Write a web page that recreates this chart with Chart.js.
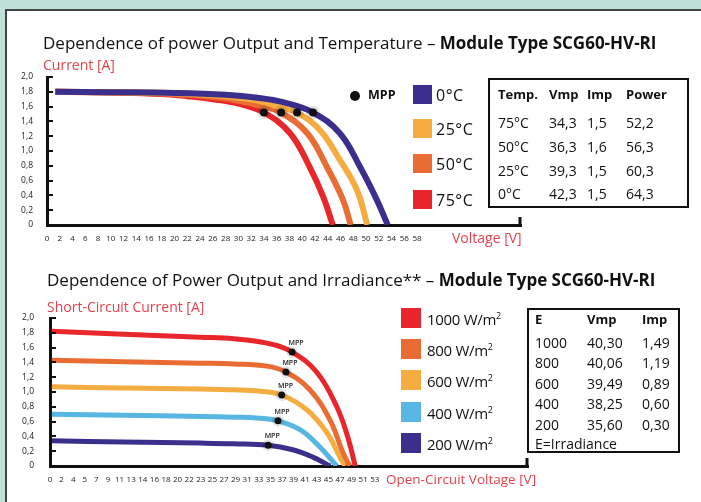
<!DOCTYPE html>
<html lang="en">
<head>
<meta charset="UTF-8">
<title>SCG60-HV-RI</title>
<script src="https://cdn.jsdelivr.net/npm/chart.js"></script>
<style>
  body { margin:0; width:701px; height:502px; overflow:hidden; background:#bfe0d8; position:relative; font-family:'Open Sans', sans-serif; color:#111; }
  .panel { position:absolute; left:5px; top:9px; width:720px; height:520px; background:#fff; border:2px solid #444; }
  canvas { position:absolute; left:0; }
  .t { position:absolute; white-space:nowrap; line-height:1; }
  .red { color:#e5424d; }
  .box { position:absolute; border:2px solid #111; }
  .sw { position:absolute; }
  b { font-weight:700; }
</style>
</head>
<body>
<div class="panel"></div>
<canvas id="tempChart" width="701" height="250" style="top:0"></canvas>
<canvas id="irrChart" width="701" height="252" style="top:250px"></canvas>
<div id="overlay"></div>
<script>
// ---- Temperature chart data (Voltage [V] vs Current [A]) ----
const tempNames = ['0°C', '25°C', '50°C', '75°C'];
const tempColors = ['#3b2f8e', '#f5ad41', '#e96c32', '#e8262b'];
const volt0 = [1.3, 10, 20, 28, 33, 37, 41.7, 45.9, 49.1, 51.7, 53.4];
const curr0 = [1.80, 1.795, 1.785, 1.76, 1.72, 1.66, 1.52, 1.24, 0.78, 0.34, 0];
const volt25 = [1.3, 10, 20, 28, 33, 37, 39.2, 42.8, 45.9, 48.6, 50.2];
const curr25 = [1.80, 1.795, 1.78, 1.74, 1.68, 1.58, 1.52, 1.28, 0.88, 0.47, 0];
const volt50 = [1.3, 10, 20, 26, 30, 34, 36.7, 40.8, 43.9, 46.4, 47.6];
const curr50 = [1.80, 1.79, 1.77, 1.73, 1.68, 1.60, 1.52, 1.24, 0.78, 0.34, 0];
const volt75 = [1.3, 10, 18, 22, 26, 30, 34.0, 38.1, 41.2, 43.3, 44.8];
const curr75 = [1.80, 1.79, 1.77, 1.74, 1.70, 1.64, 1.52, 1.24, 0.78, 0.38, 0];
const mppTempV = [34.0, 36.7, 39.2, 41.7];
const mppTempI = [1.52, 1.52, 1.52, 1.52];
const tempXTicks = [0,2,4,6,8,10,12,14,16,18,20,22,24,26,28,30,32,34,36,38,40,42,44,46,48,50,52,54,56,58];
const tempTableHead = ['Temp.', 'Vmp', 'Imp', 'Power'];
const tempTableTemp = ['75°C', '50°C', '25°C', '0°C'];
const tempTableVmp = ['34,3', '36,3', '39,3', '42,3'];
const tempTableImp = ['1,5', '1,6', '1,5', '1,5'];
const tempTablePower = ['52,2', '56,3', '60,3', '64,3'];

// ---- Irradiance chart data ----
const irrNames = ['1000', '800', '600', '400', '200'];
const irrColors = ['#e8262b', '#e96c32', '#f5ad41', '#58b6e2', '#3b2f8e'];
const volt1000 = [0.3, 12, 24.5, 30, 35.4, 39.5, 43.6, 46.8, 48.6, 49.8];
const curr1000 = [1.82, 1.78, 1.74, 1.72, 1.66, 1.54, 1.26, 0.80, 0.39, 0];
const volt800 = [0.3, 12, 24.5, 30, 35.4, 38.5, 42.4, 45.7, 47.8, 48.9];
const curr800 = [1.43, 1.41, 1.39, 1.38, 1.35, 1.27, 1.03, 0.62, 0.18, 0];
const volt600 = [0.3, 12, 24.5, 30, 34.3, 37.8, 41.9, 45.2, 47.3, 48.1];
const curr600 = [1.07, 1.055, 1.04, 1.03, 1.01, 0.96, 0.76, 0.45, 0.12, 0];
const volt400 = [0.3, 12, 24.5, 30, 33.8, 37.2, 40.8, 44.0, 46.8];
const curr400 = [0.70, 0.685, 0.67, 0.66, 0.65, 0.61, 0.49, 0.26, 0];
const volt200 = [0.3, 12, 24.5, 30, 35.6, 39.6, 42.9, 45.7];
const curr200 = [0.34, 0.325, 0.31, 0.30, 0.28, 0.22, 0.12, 0];
const mppIrrV = [39.5, 38.5, 37.8, 37.2, 35.6];
const mppIrrI = [1.54, 1.27, 0.96, 0.61, 0.28];
const irrXTicks = ['0','2','4','5','7','9','11','13','14','16','18','20','22','23','25','27','29','31','33','35','37','39','41','43','45','47','49','51','53'];
const irrTableHead = ['E', 'Vmp', 'Imp'];
const irrTableE = ['1000', '800', '600', '400', '200'];
const irrTableVmp = ['40,30', '40,06', '39,49', '38,25', '35,60'];
const irrTableImp = ['1,49', '1,19', '0,89', '0,60', '0,30'];

Chart.defaults.font.family = "'Open Sans', sans-serif";
Chart.defaults.color = '#222';

const pts = (xs, ys) => xs.map((x, i) => ({ x: x, y: ys[i] }));

const axisDeco = {
  id: 'axisDeco',
  afterDraw(chart, args, opts) {
    const { ctx, chartArea, scales } = chart;
    ctx.save();
    ctx.strokeStyle = '#111';
    ctx.lineWidth = 2;
    scales.y.ticks.forEach(t => {
      if (t.value === 0) return;
      const y = Math.round(scales.y.getPixelForValue(t.value));
      ctx.beginPath();
      ctx.moveTo(chartArea.left, y);
      ctx.lineTo(chartArea.left + 6, y);
      ctx.stroke();
    });
    ctx.lineWidth = 3;
    ctx.beginPath();
    ctx.moveTo(chartArea.right - 1, chartArea.bottom);
    ctx.lineTo(chartArea.right - 1, chartArea.bottom - 8);
    ctx.stroke();
    if (opts.mppText) {
      ctx.fillStyle = '#222';
      ctx.font = "600 7px 'Open Sans', sans-serif";
      ctx.textAlign = 'center';
      ctx.textBaseline = 'middle';
      chart.getDatasetMeta(0).data.forEach(p => {
        ctx.fillText('MPP', p.x + 4, p.y - 9);
      });
    }
    ctx.restore();
  }
};

function yAxis(width, pad) {
  return {
    min: 0, max: 2,
    afterFit: s => { s.width = width; },
    grid: { display: false, drawTicks: false },
    border: { color: '#111', width: 3 },
    ticks: {
      stepSize: 0.2, padding: pad,
      font: { size: 8.5 },
      callback: v => v === 0 ? '0' : v.toFixed(1).replace('.', ',')
    }
  };
}

// Temperature chart
new Chart(document.getElementById('tempChart'), {
  type: 'scatter',
  data: {
    datasets: [
      { data: pts(mppTempV, mppTempI), backgroundColor: '#111', pointRadius: 4, showLine: false },
      { data: pts(volt0, curr0), borderColor: tempColors[0] },
      { data: pts(volt25, curr25), borderColor: tempColors[1] },
      { data: pts(volt50, curr50), borderColor: tempColors[2] },
      { data: pts(volt75, curr75), borderColor: tempColors[3] }
    ]
  },
  options: {
    responsive: false,
    animation: false,
    layout: { padding: { left: 7, right: 180, top: 77, bottom: 0 } },
    datasets: { scatter: { showLine: true, borderWidth: 6, pointRadius: 0, tension: 0.4 } },
    plugins: { legend: { display: false }, tooltip: { enabled: false }, axisDeco: { mppText: false } },
    scales: {
      x: {
        type: 'linear', min: 0, max: 74.3,
        afterFit: s => { s.height = 25; },
        afterBuildTicks: s => { s.ticks = tempXTicks.map(v => ({ value: v })); },
        grid: { display: false, drawTicks: false },
        border: { color: '#111', width: 3 },
        ticks: { autoSkip: false, maxRotation: 0, padding: 9, font: { size: 8 }, callback: v => String(v) }
      },
      y: yAxis(40, 14)
    }
  },
  plugins: [axisDeco]
});

// Irradiance chart
new Chart(document.getElementById('irrChart'), {
  type: 'scatter',
  data: {
    datasets: [
      { data: pts(mppIrrV, mppIrrI), backgroundColor: '#111', pointRadius: 3.5, showLine: false },
      { data: pts(volt1000, curr1000), borderColor: irrColors[0] },
      { data: pts(volt800, curr800), borderColor: irrColors[1] },
      { data: pts(volt600, curr600), borderColor: irrColors[2] },
      { data: pts(volt400, curr400), borderColor: irrColors[3] },
      { data: pts(volt200, curr200), borderColor: irrColors[4] }
    ]
  },
  options: {
    responsive: false,
    animation: false,
    layout: { padding: { left: 10, right: 173, top: 68, bottom: 0 } },
    datasets: { scatter: { showLine: true, borderWidth: 5, pointRadius: 0, tension: 0.4 } },
    plugins: { legend: { display: false }, tooltip: { enabled: false }, axisDeco: { mppText: true } },
    scales: {
      x: {
        type: 'linear', min: 0, max: 78,
        afterFit: s => { s.height = 36; },
        afterBuildTicks: s => { s.ticks = irrXTicks.map((l, i) => ({ value: i * 53 / 28 })); },
        grid: { display: false, drawTicks: false },
        border: { color: '#111', width: 3 },
        ticks: { autoSkip: false, maxRotation: 0, padding: 9, font: { size: 8 }, callback: (v, i) => irrXTicks[i] }
      },
      y: yAxis(40, 16)
    }
  },
  plugins: [axisDeco]
});

// ---- text, legends and tables ----
const ov = document.getElementById('overlay');
function txt(html, x, yc, size, cls, extra) {
  const d = document.createElement('div');
  d.className = 't ' + (cls || '');
  d.style.left = x + 'px';
  d.style.top = (yc - size * 0.53) + 'px';
  d.style.fontSize = size + 'px';
  if (extra) d.style.cssText += extra;
  d.innerHTML = html;
  ov.appendChild(d);
  return d;
}
function box(x, y, w, h, cls, color) {
  const d = document.createElement('div');
  d.className = cls;
  d.style.cssText += `left:${x}px;top:${y}px;width:${w}px;height:${h}px;` + (color ? `background:${color};` : '');
  ov.appendChild(d);
  return d;
}

txt('Dependence of power Output and Temperature – <b>Module Type SCG60-HV-RI</b>', 43, 43, 17);
txt('Current [A]', 43, 65, 14, 'red');
txt('Voltage [V]', 452, 238, 14, 'red');
txt('Dependence of Power Output and Irradiance** – <b>Module Type SCG60-HV-RI</b>', 47, 280, 17);
txt('Short-Circuit Current [A]', 47, 307, 14, 'red');
txt('Open-Circuit Voltage [V]', 386, 480, 13.5, 'red');

// temperature legend
box(350, 91, 10, 10, 'sw', '#111').style.borderRadius = '50%';
txt('<b>MPP</b>', 368, 96, 12.5);
const tempSwY = [85, 119, 154, 190];
tempNames.forEach((n, i) => {
  box(413, tempSwY[i], 19, 19, 'sw', tempColors[i]);
  txt(n, 436, tempSwY[i] + 10, 16, '', 'letter-spacing:0.5px');
});

// temperature table
box(488, 78, 197, 126, 'box');
const tCols = [498, 549, 587, 626];
tempTableHead.forEach((h, j) => txt('<b>' + h + '</b>', tCols[j], 95, 13));
const tRows = [123, 147, 171, 194];
tempTableTemp.forEach((t, i) => {
  [t, tempTableVmp[i], tempTableImp[i], tempTablePower[i]].forEach((c, j) => txt(c, tCols[j], tRows[i], 14));
});

// irradiance legend
const irrSwY = [308, 339, 370, 402, 433];
irrNames.forEach((n, i) => {
  box(401, irrSwY[i], 20, 20, 'sw', irrColors[i]);
  txt(n + ' W/m<sup style="font-size:9px;vertical-align:6px">2</sup>', 427, irrSwY[i] + 11, 15, '', 'letter-spacing:-0.3px');
});

// irradiance table
box(527, 308, 149, 141, 'box');
const iCols = [535, 587, 642];
irrTableHead.forEach((h, j) => txt('<b>' + h + '</b>', iCols[j], 320, 13));
const iRows = [343, 363, 384, 404, 425];
irrTableE.forEach((e, i) => {
  [e, irrTableVmp[i], irrTableImp[i]].forEach((c, j) => txt(c, iCols[j], iRows[i], 14));
});
txt('E=Irradiance', 535, 444, 14);
</script>
</body>
</html>
